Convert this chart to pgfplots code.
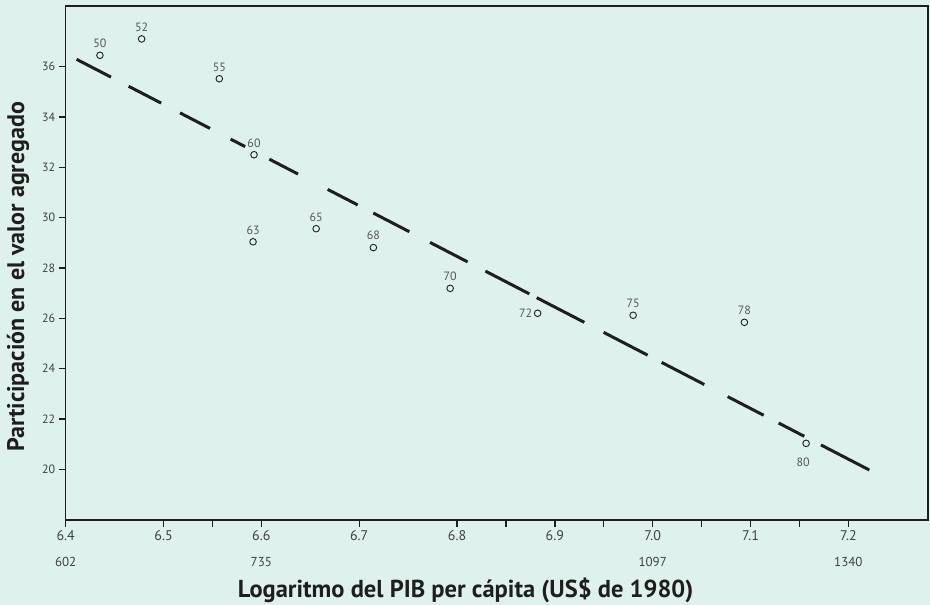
\documentclass[border=0pt]{standalone}
\usepackage{pgfplots}
\pgfplotsset{compat=1.18}
\usepackage{pgfplotstable}
\usepackage{fontspec}
\setmainfont{PT Sans}
\definecolor{bgmint}{RGB}{222,241,236}
\definecolor{ink}{RGB}{30,30,30}
\pgfplotstableread{
x y lab
6.435 36.45 50
6.4776 37.10 52
6.557 35.52 55
6.5925 32.50 60
6.5915 29.04 63
6.656 29.56 65
6.7145 28.81 68
6.793 27.19 70
6.980 26.12 75
7.0937 25.84 78
}\ptsabove
\pgfplotstableread{
x y lab
6.8824 26.20 72
}\ptsleft
\pgfplotstableread{
x y lab
7.1568 21.03 80
}\ptsbelow
\begin{document}
\begin{tikzpicture}
\fill[bgmint] (-65.7pt,-85pt) rectangle (864.3pt,520pt);
\begin{axis}[
  at={(0,0)}, anchor=south west,
  scale only axis, width=862.3pt, height=514pt,
  xmin=6.4, xmax=7.2814, ymin=17.985, ymax=38.41,
  axis line style={ink, line width=1.6pt},
  every tick/.style={ink, line width=1.3pt},
  tick align=outside, tick pos=left,
  major tick length=7pt, minor tick length=7pt,
  xtick={6.4,6.5,6.6,6.7,6.8,6.9,7.0,7.1,7.2},
  xticklabels={6.4,6.5,6.6,6.7,6.8,6.9,7.0,7.1,7.2},
  minor xtick={6.55,6.85,6.95,7.05,7.15},
  ytick={20,22,24,26,28,30,32,34,36},
  /pgf/number format/assume math mode=true,
  xticklabel style={font=\fontsize{14}{16}\selectfont, text=ink!85},
  yticklabel style={font=\fontsize{12}{14}\selectfont, text=ink!85},
  extra x ticks={6.4,6.6,7.0,7.2},
  extra x tick labels={602,735,1097,1340},
  extra x tick style={major tick length=0pt, xticklabel style={yshift=-34pt, font=\fontsize{13}{15}\selectfont}},
  xlabel={Logaritmo del PIB per cápita (US\$ de 1980)},
  ylabel={Participación en el valor agregado},
  xlabel style={at={([yshift=-70pt]rel axis cs:0.4637,0)}, anchor=center, font=\bfseries\fontsize{24.5}{28}\selectfont, text=ink},
  ylabel style={at={([xshift=-47.7pt]rel axis cs:0,0.473)}, anchor=center, font=\bfseries\fontsize{24}{28}\selectfont, text=ink},
  ptmark/.style={only marks, mark=o, mark size=3.3pt, mark options={line width=0.9pt, draw=ink},
    nodes near coords, point meta=explicit symbolic},
]
\addplot[ink, line width=3pt, dash pattern=on 38.7pt off 19.9pt on 36.5pt off 21.3pt on 33.8pt off 23.2pt on 16.3pt off 27.3pt on 32.3pt off 33.4pt on 33.8pt off 17.6pt on 40.6pt off 23.3pt on 42.3pt off 20pt on 49.5pt off 8.3pt on 53.7pt off 21.7pt on 49.5pt off 15.8pt on 48.1pt off 26.3pt on 40.5pt off 16.9pt on 28.9pt off 18.8pt on 54.4pt off 100pt]
  coordinates {(6.4112,36.29) (7.2215,19.97)};
\addplot[ptmark, every node near coord/.append style={font=\fontsize{12}{14}\selectfont, text=ink!75, inner sep=0pt, anchor=south, yshift=7pt}]
  table[x=x, y=y, meta=lab]{\ptsabove};
\addplot[ptmark, every node near coord/.append style={font=\fontsize{12}{14}\selectfont, text=ink!75, inner sep=0pt, anchor=east, xshift=-5pt}]
  table[x=x, y=y, meta=lab]{\ptsleft};
\addplot[ptmark, every node near coord/.append style={font=\fontsize{12}{14}\selectfont, text=ink!75, inner sep=0pt, anchor=north, xshift=-3pt, yshift=-14pt}]
  table[x=x, y=y, meta=lab]{\ptsbelow};
\end{axis}
\pgfresetboundingbox
\path[use as bounding box] (-65.7pt,-85pt) rectangle (864.3pt,520pt);
\end{tikzpicture}
\end{document}
